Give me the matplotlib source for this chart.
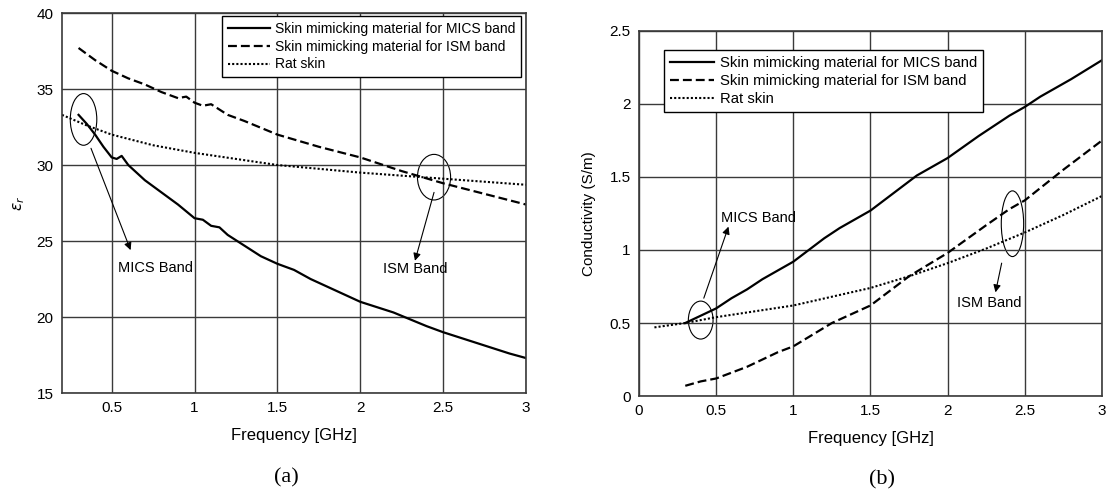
import matplotlib as mpl
mpl.use('agg')
import matplotlib.pyplot as plt
from matplotlib.patches import Ellipse

plt.rcParams['font.family'] = ['Liberation Sans', 'DejaVu Sans']

# (a) relative permittivity
EPS_MICS_F = [0.3, 0.35, 0.4, 0.45, 0.5, 0.53, 0.56, 0.6, 0.7, 0.8, 0.9, 1.0, 1.05,
              1.1, 1.15, 1.2, 1.3, 1.4, 1.5, 1.6, 1.7, 1.8, 1.9, 2.0, 2.2, 2.4,
              2.5, 2.7, 2.9, 3.0]
EPS_MICS = [33.3, 32.7, 32.0, 31.2, 30.5, 30.4, 30.6, 30.0, 29.0, 28.2, 27.4, 26.5, 26.4,
            26.0, 25.9, 25.4, 24.7, 24.0, 23.5, 23.1, 22.5, 22.0, 21.5, 21.0, 20.3, 19.4,
            19.0, 18.3, 17.6, 17.3]
EPS_ISM_F = [0.3, 0.4, 0.5, 0.6, 0.7, 0.8, 0.9, 0.95, 1.0, 1.05, 1.1, 1.2, 1.3, 1.5,
             1.75, 2.0, 2.25, 2.5, 2.75, 3.0]
EPS_ISM = [37.7, 36.9, 36.2, 35.7, 35.3, 34.8, 34.4, 34.5, 34.1, 33.9, 34.0, 33.3, 32.9, 32.0,
           31.2, 30.5, 29.6, 28.8, 28.1, 27.4]
EPS_RAT_F = [0.2, 0.35, 0.5, 0.75, 1.0, 1.25, 1.5, 1.75, 2.0, 2.25, 2.5, 2.75, 3.0]
EPS_RAT = [33.3, 32.6, 32.0, 31.3, 30.8, 30.4, 30.0, 29.75, 29.5, 29.3, 29.1, 28.9, 28.7]

# (b) conductivity
SIG_MICS_F = [0.3, 0.4, 0.5, 0.6, 0.7, 0.8, 0.9, 1.0, 1.1, 1.2, 1.3, 1.4, 1.5, 1.6, 1.7,
              1.8, 1.9, 2.0, 2.2, 2.4, 2.5, 2.6, 2.8, 3.0]
SIG_MICS = [0.50, 0.55, 0.60, 0.67, 0.73, 0.80, 0.86, 0.92, 1.00, 1.08, 1.15, 1.21, 1.27,
            1.35, 1.43, 1.51, 1.57, 1.63, 1.78, 1.92, 1.98, 2.05, 2.17, 2.30]
SIG_ISM_F = [0.3, 0.4, 0.5, 0.7, 0.9, 1.0, 1.25, 1.5, 1.75, 2.0, 2.25, 2.4, 2.5, 2.75, 3.0]
SIG_ISM = [0.07, 0.10, 0.12, 0.20, 0.30, 0.34, 0.50, 0.62, 0.82, 0.98, 1.17, 1.28, 1.34,
           1.55, 1.75]
SIG_RAT_F = [0.1, 0.3, 0.5, 0.75, 1.0, 1.25, 1.5, 1.75, 2.0, 2.25, 2.5, 2.75, 3.0]
SIG_RAT = [0.47, 0.50, 0.54, 0.58, 0.62, 0.68, 0.74, 0.82, 0.91, 1.01, 1.12, 1.24, 1.37]

LABELS = ['Skin mimicking material for MICS band',
          'Skin mimicking material for ISM band',
          'Rat skin']

GRID_COLOR = '#3a3a3a'


def _style_axes(axes):
    """Common grid / spine look"""
    axes.grid(True, color=GRID_COLOR, linewidth=1.0)
    for spine in axes.spines.values():
        spine.set_color(GRID_COLOR)
        spine.set_linewidth(1.2)
    axes.tick_params(length=0, labelsize=11, pad=6)
    axes.set_xlabel('Frequency [GHz]', fontsize=12, labelpad=9)


def _plot_three(axes, data):
    (f1, y1), (f2, y2), (f3, y3) = data
    axes.plot(f1, y1, color='k', lw=1.6, label=LABELS[0])
    axes.plot(f2, y2, color='k', lw=1.6, ls=(0, (4, 1.8)), label=LABELS[1])
    axes.plot(f3, y3, color='k', lw=1.5, ls=(0, (1, 1)), label=LABELS[2])


def _legend(axes, anchor, loc, size):
    axes.legend(loc=loc, bbox_to_anchor=anchor, borderaxespad=0,
                fontsize=size, handlelength=3.0, handletextpad=0.35,
                fancybox=False, framealpha=1, edgecolor='k',
                labelspacing=0.27, borderpad=0.42)


def _band(axes, center, width, height, xy, xytext, text, textxy, ha='left'):
    axes.add_patch(Ellipse(center, width, height, fill=False, ec='k', lw=0.8))
    axes.annotate('', xy=xytext, xytext=xy,
                  arrowprops=dict(arrowstyle='-|>', color='k', lw=0.8,
                                  mutation_scale=11, shrinkA=0, shrinkB=0))
    axes.text(textxy[0], textxy[1], text, fontsize=10.5, ha=ha, va='center')


def main():
    fig = plt.figure(figsize=(11.13, 4.99), dpi=100)
    ax1 = fig.add_axes([0.0557, 0.2124, 0.4169, 0.7615])
    ax2 = fig.add_axes([0.5741, 0.2064, 0.416, 0.7315])

    # (a)
    _plot_three(ax1, [(EPS_MICS_F, EPS_MICS), (EPS_ISM_F, EPS_ISM), (EPS_RAT_F, EPS_RAT)])
    ax1.set_xlim(0.2, 3)
    ax1.set_ylim(15, 40)
    ax1.set_xticks([0.5, 1, 1.5, 2, 2.5, 3])
    ax1.set_xticklabels(['0.5', '1', '1.5', '2', '2.5', '3'])
    ax1.set_yticks([15, 20, 25, 30, 35, 40])
    _style_axes(ax1)
    ax1.set_ylabel(r'$\varepsilon_r$', fontsize=11)
    ax1.yaxis.set_label_coords(-0.075, 0.5)
    _legend(ax1, (0.989, 0.992), 'upper right', 10)
    _band(ax1, (0.33, 33.0), 0.16, 3.4, (0.375, 31.1), (0.614, 24.4),
          'MICS Band', (0.536, 23.2))
    _band(ax1, (2.445, 29.2), 0.2, 3.0, (2.445, 28.2), (2.33, 23.7),
          'ISM Band', (2.33, 23.15), ha='center')

    # (b)
    _plot_three(ax2, [(SIG_MICS_F, SIG_MICS), (SIG_ISM_F, SIG_ISM), (SIG_RAT_F, SIG_RAT)])
    ax2.set_xlim(0, 3)
    ax2.set_ylim(0, 2.5)
    ax2.set_xticks([0, 0.5, 1, 1.5, 2, 2.5, 3])
    ax2.set_xticklabels(['0', '0.5', '1', '1.5', '2', '2.5', '3'])
    ax2.set_yticks([0, 0.5, 1, 1.5, 2, 2.5])
    ax2.set_yticklabels(['0', '0.5', '1', '1.5', '2', '2.5'])
    _style_axes(ax2)
    ax2.set_ylabel('Conductivity (S/m)', fontsize=11)
    ax2.yaxis.set_label_coords(-0.093, 0.5)
    _legend(ax2, (0.053, 0.948), 'upper left', 10.7)
    _band(ax2, (0.40, 0.52), 0.16, 0.26, (0.42, 0.67), (0.58, 1.16),
          'MICS Band', (0.53, 1.22))
    _band(ax2, (2.42, 1.18), 0.145, 0.45, (2.35, 0.91), (2.31, 0.71),
          'ISM Band', (2.27, 0.64), ha='center')

    fig.text(286 / 1113, 1 - 478 / 499, '(a)', fontsize=16, family='Liberation Serif',
             ha='center', va='center')
    fig.text(882 / 1113, 1 - 480 / 499, '(b)', fontsize=16, family='Liberation Serif',
             ha='center', va='center')

    fig.savefig('out.png', dpi=100)


if __name__ == '__main__':
    main()
